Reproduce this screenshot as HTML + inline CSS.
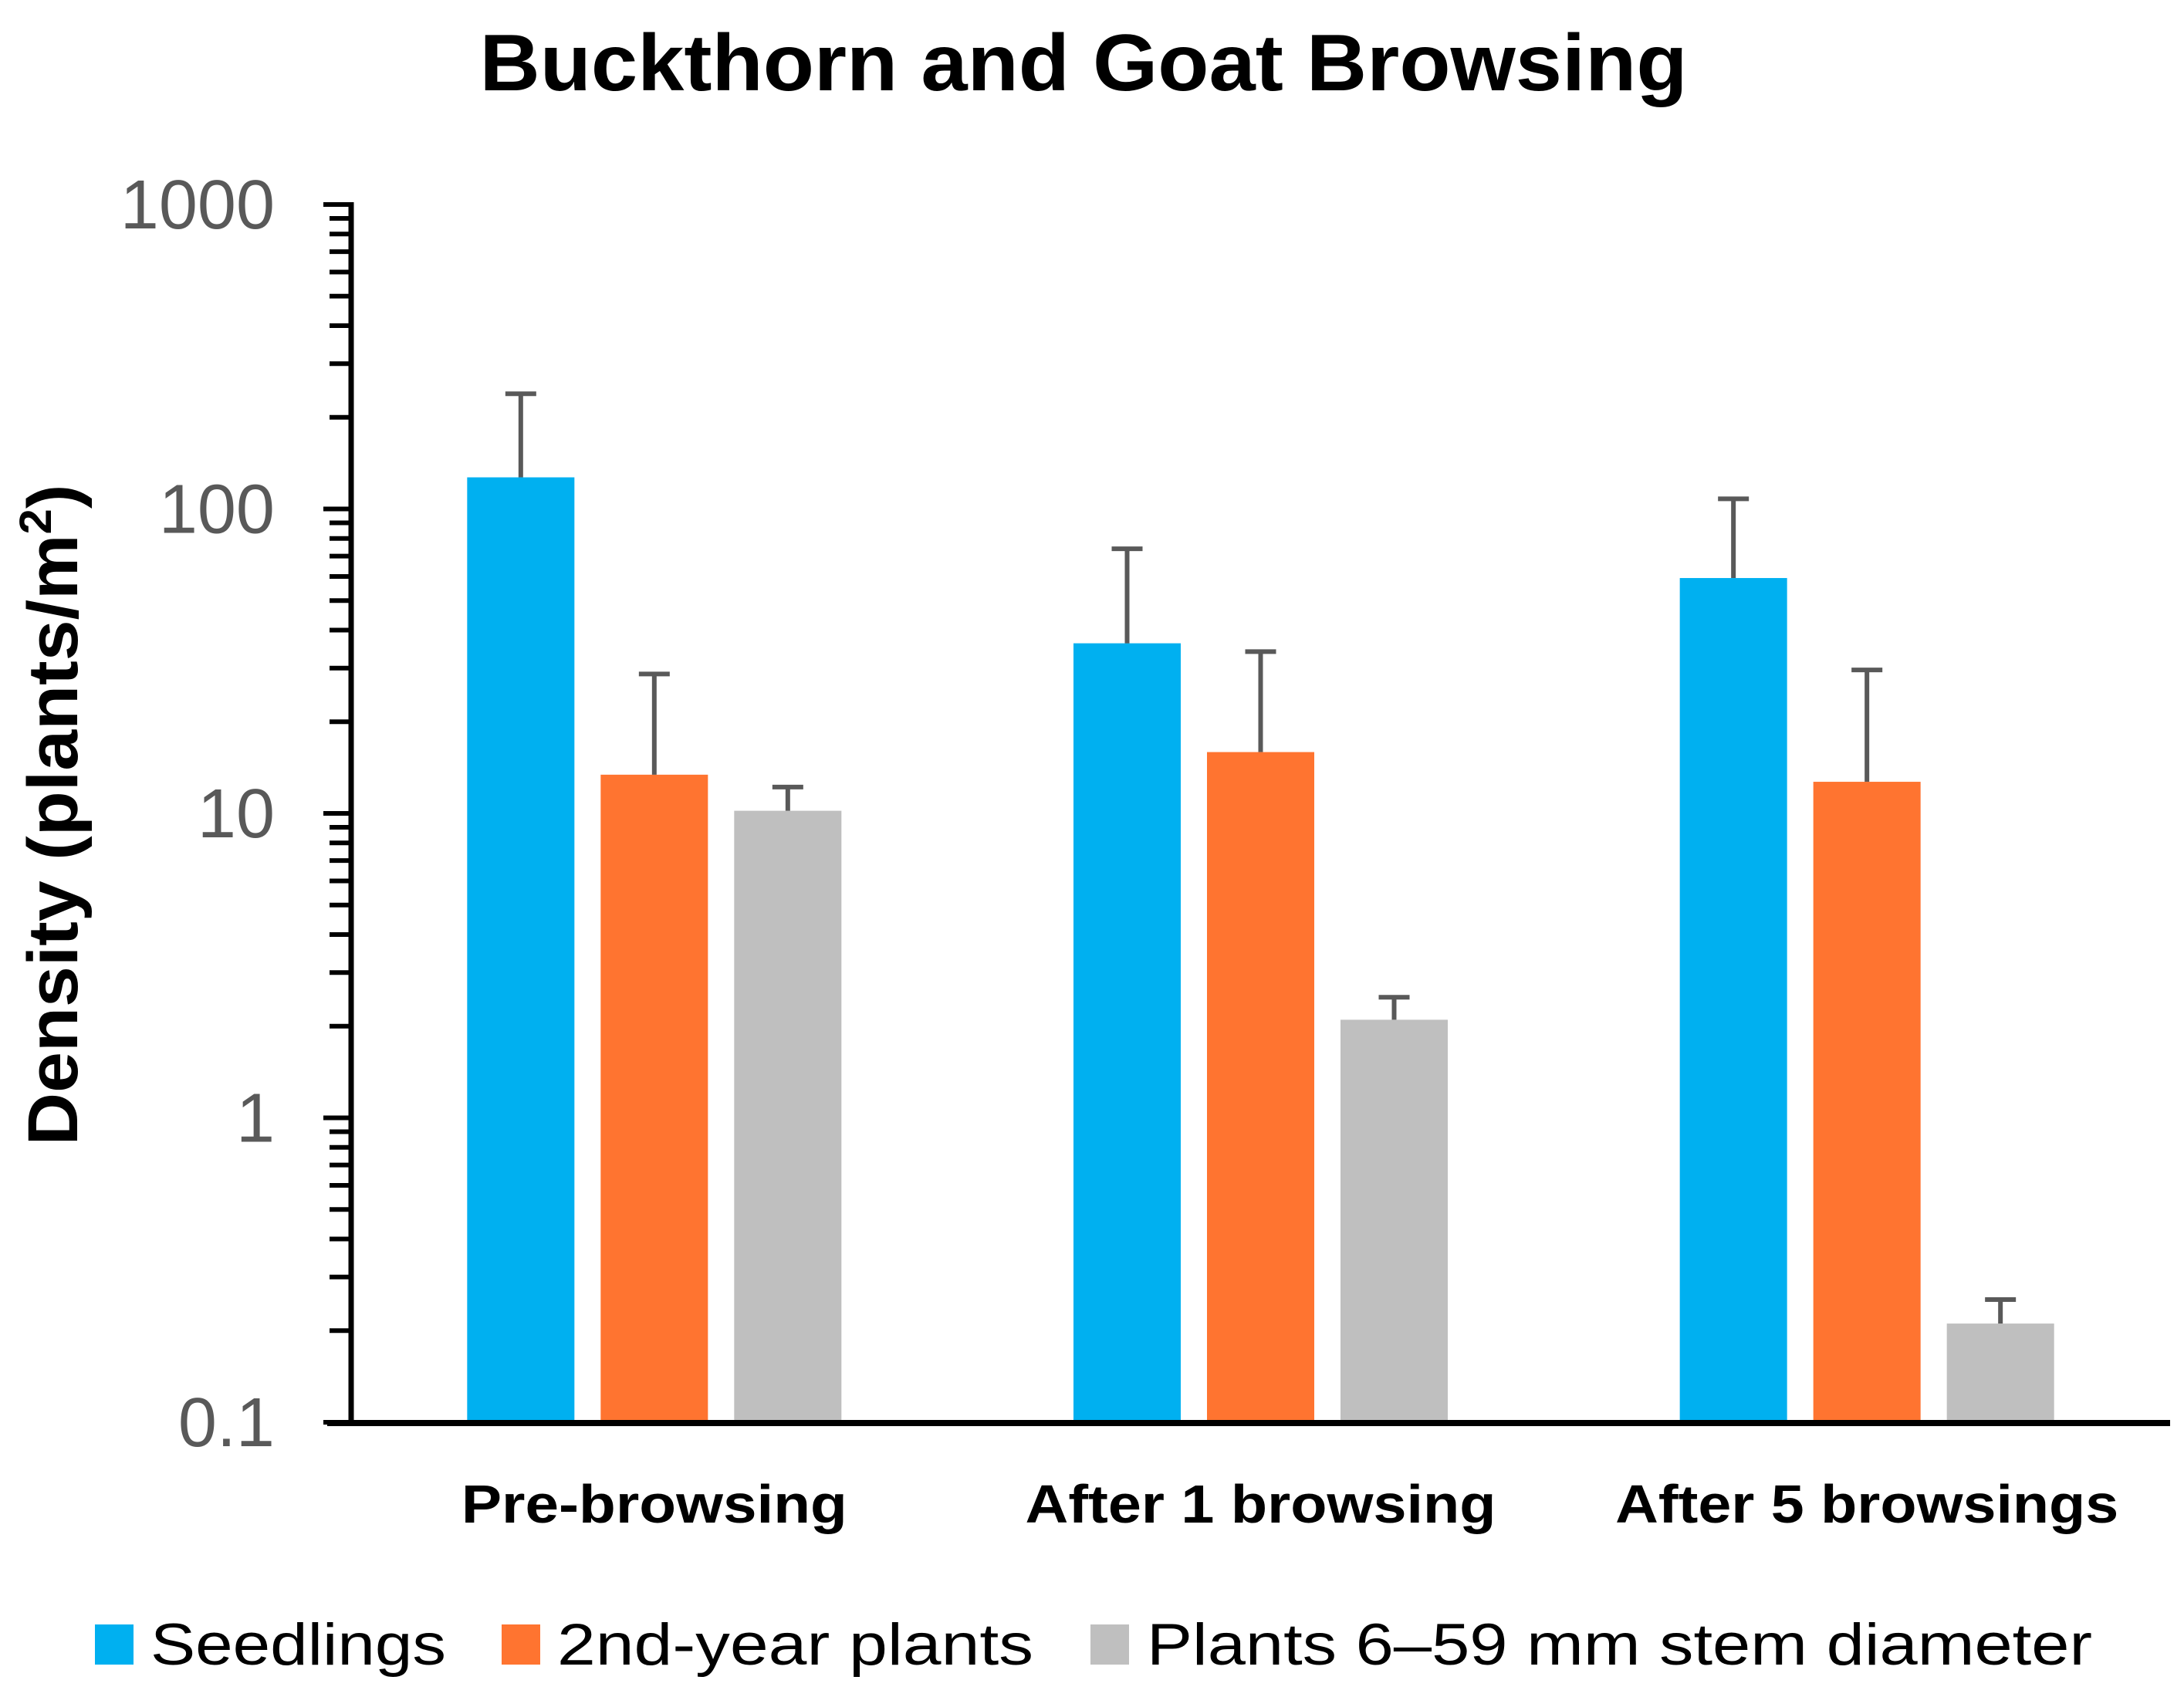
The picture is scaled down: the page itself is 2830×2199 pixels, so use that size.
<!DOCTYPE html>
<html><head><meta charset="utf-8"><style>
html,body{margin:0;padding:0;background:#fff;}
svg{display:block;}
</style></head><body>
<svg id="chart" width="2830" height="2199" viewBox="0 0 2830 2199" xmlns="http://www.w3.org/2000/svg">
<text x="1404" y="117" text-anchor="middle" font-family="Liberation Sans, sans-serif" font-weight="bold" font-size="104" textLength="1565" lengthAdjust="spacingAndGlyphs" fill="#000">Buckthorn and Goat Browsing</text>
<text transform="translate(100,1056) rotate(-90)" text-anchor="middle" font-family="Liberation Sans, sans-serif" font-weight="bold" font-size="92" textLength="857" lengthAdjust="spacingAndGlyphs" fill="#000">Density (plants/m<tspan font-size="58" dy="-34">2</tspan><tspan dy="34">)</tspan></text>
<g id="ticks"></g>
<g id="bars"></g>
<g id="errs"></g>
<g id="axes"></g>
<g id="xlabels"></g>
<g id="legend"></g>
</svg>
<script>
const categories = ["Pre-browsing", "After 1 browsing", "After 5 browsings"];
const seriesNames = ["Seedlings", "2nd-year plants", "Plants 6\u201359 mm stem diameter"];
const seedlings = [127, 36.2, 59.3];
const secondYear = [13.4, 15.9, 12.7];
const plants659 = [10.2, 2.10, 0.211];
const seedlingsErr = [239, 74, 108];
const secondYearErr = [28.7, 34, 29.6];
const plants659Err = [12.2, 2.49, 0.253];
const tickValues = [0.1, 1, 10, 100, 1000];
const tickLabels = ["0.1", "1", "10", "100", "1000"];

const colors = ["#00B0F0", "#FF7430", "#BFBFBF"];
const NS = "http://www.w3.org/2000/svg";
const plotL = 455, plotR = 2812, yTop = 265, yBot = 1843;
const logMin = -1, logMax = 3;
function y(v){ return yBot - (Math.log10(v) - logMin) / (logMax - logMin) * (yBot - yTop); }
const catW = (plotR - plotL) / categories.length;
function catCenter(i){ return plotL + catW * (i + 0.5); }
const barW = 139, barStep = 173;
function barX(i, s){ return catCenter(i) + (s - 1) * barStep - barW / 2; }

function mk(tag, attrs, parent){ const e = document.createElementNS(NS, tag); for (const k in attrs) e.setAttribute(k, attrs[k]); parent.appendChild(e); return e; }

const gT = document.getElementById("ticks");
for (let d = logMin; d < logMax; d++) {
  for (let m = 2; m <= 9; m++) {
    const t = mk("line", {x1: 427, x2: 455, y1: y(m * Math.pow(10, d)), y2: y(m * Math.pow(10, d)), stroke: "#000", "stroke-width": 6}, gT);
    
    
  }
}
tickValues.forEach((v, i) => {
  const t = mk("line", {x1: 419, x2: 455, y1: y(v), y2: y(v), stroke: "#000", "stroke-width": 6}, gT);
  
  
  const lb = mk("text", {x: 356, y: y(v) + 31, "text-anchor": "end", "font-family": "Liberation Sans, sans-serif", "font-size": 90, fill: "#595959"}, gT);
  lb.textContent = tickLabels[i];
  
  
});

const series = [seedlings, secondYear, plants659];
const errs = [seedlingsErr, secondYearErr, plants659Err];
const keys = ["seedlings", "second-year", "plants-6-59mm"];
const gB = document.getElementById("bars"), gE = document.getElementById("errs");
series.forEach((vals, s) => {
  vals.forEach((v, i) => {
    const x = barX(i, s);
    const r = mk("rect", {x: x, y: y(v), width: barW, height: yBot - y(v), fill: colors[s]}, gB);
    
    
    const cx = x + barW / 2;
    const e1 = mk("line", {x1: cx, x2: cx, y1: y(v), y2: y(errs[s][i]), stroke: "#595959", "stroke-width": 6}, gE);
    
    
    const e2 = mk("line", {x1: cx - 20, x2: cx + 20, y1: y(errs[s][i]), y2: y(errs[s][i]), stroke: "#595959", "stroke-width": 6}, gE);
    
    
  });
});

const gA = document.getElementById("axes");
const ya = mk("line", {x1: 455, x2: 455, y1: yTop - 3, y2: yBot + 4, stroke: "#000", "stroke-width": 7}, gA);


const xa = mk("line", {x1: 424, x2: 2812, y1: yBot + 1, y2: yBot + 1, stroke: "#000", "stroke-width": 8}, gA);



const gX = document.getElementById("xlabels");
const xLabelW = [500, 610, 652];
categories.forEach((c, i) => {
  const t = mk("text", {x: catCenter(i), y: 1973, "text-anchor": "middle", "font-family": "Liberation Sans, sans-serif", "font-weight": "bold", "font-size": 70, textLength: xLabelW[i], lengthAdjust: "spacingAndGlyphs", fill: "#000"}, gX);
  t.textContent = c;
  
  
});

const gL = document.getElementById("legend");
const legSq = [123, 650, 1413];
const legTx = [195, 722, 1486];
const legTw = [383, 617, 1225];
seriesNames.forEach((n, s) => {
  const g = mk("g", {}, gL);
  
  
  const r = mk("rect", {x: legSq[s], y: 2105, width: 50, height: 52, fill: colors[s]}, g);
  
  
  const t = mk("text", {x: legTx[s], y: 2157, "font-family": "Liberation Sans, sans-serif", "font-size": 76, textLength: legTw[s], lengthAdjust: "spacingAndGlyphs", fill: "#000"}, g);
  t.textContent = n;
  
  
});
</script>
</body></html>
